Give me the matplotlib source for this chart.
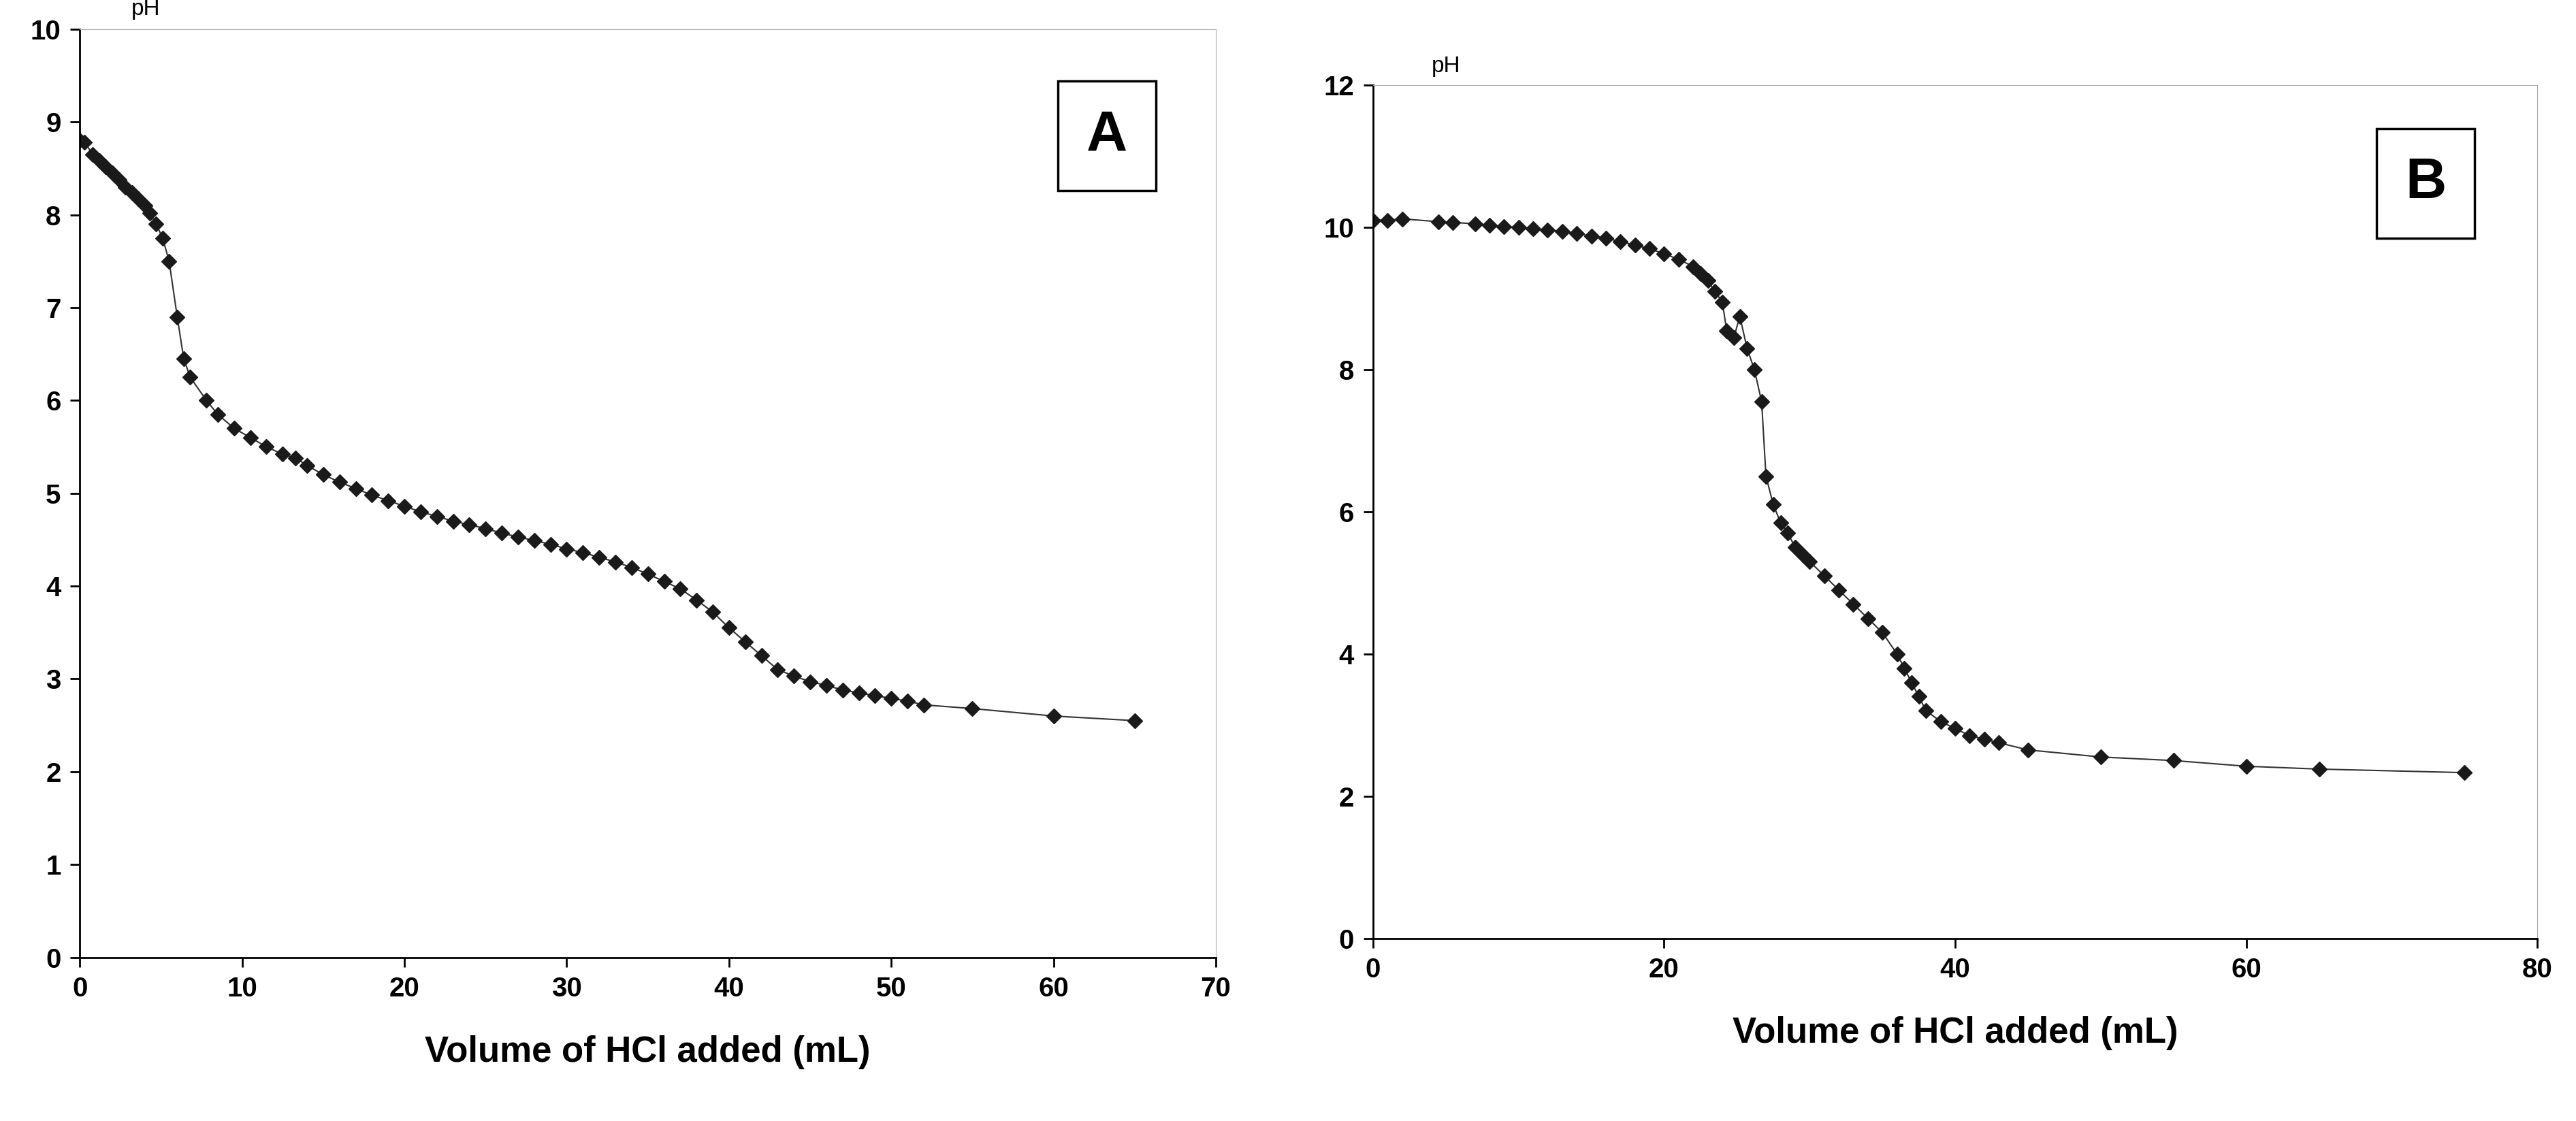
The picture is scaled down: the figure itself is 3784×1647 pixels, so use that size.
import matplotlib
matplotlib.use('Agg')
import matplotlib.pyplot as plt

plt.rcParams['font.family'] = ['Liberation Sans', 'DejaVu Sans']

# ── 데이터 ──────────────────────────────────────────
vol_a = [0, 0.3, 0.8, 1.2, 1.6, 2.0, 2.4, 2.8, 3.2, 3.6, 4.0, 4.3, 4.7, 5.1, 5.5, 6.0, 6.4,
         6.8, 7.8, 8.5, 9.5, 10.5, 11.5, 12.5, 13.3, 14, 15, 16, 17, 18, 19, 20, 21, 22, 23,
         24, 25, 26, 27, 28, 29, 30, 31, 32, 33, 34, 35, 36, 37, 38, 39, 40, 41, 42, 43, 44,
         45, 46, 47, 48, 49, 50, 51, 52, 55, 60, 65]
ph_a = [8.8, 8.78, 8.65, 8.58, 8.52, 8.45, 8.38, 8.3, 8.24, 8.17, 8.1, 8.02, 7.9, 7.75, 7.5,
        6.9, 6.45, 6.25, 6.0, 5.85, 5.7, 5.6, 5.5, 5.42, 5.38, 5.3, 5.2, 5.12, 5.05, 4.98,
        4.92, 4.86, 4.8, 4.75, 4.7, 4.66, 4.62, 4.57, 4.53, 4.49, 4.45, 4.4, 4.36, 4.31,
        4.26, 4.2, 4.13, 4.05, 3.97, 3.85, 3.72, 3.55, 3.4, 3.25, 3.1, 3.03, 2.97, 2.93,
        2.88, 2.85, 2.82, 2.79, 2.76, 2.72, 2.68, 2.6, 2.55]

vol_b = [0, 1, 2, 4.5, 5.5, 7, 8, 9, 10, 11, 12, 13, 14, 15, 16, 17, 18, 19, 20, 21, 22,
         22.5, 23, 23.5, 24, 24.3, 24.8, 25.2, 25.7, 26.2, 26.7, 27.0, 27.5, 28, 28.5, 29,
         29.5, 30, 31, 32, 33, 34, 35, 36, 36.5, 37, 37.5, 38, 39, 40, 41, 42, 43, 45, 50,
         55, 60, 65, 75]
ph_b = [10.1, 10.1, 10.12, 10.08, 10.07, 10.05, 10.03, 10.01, 10.0, 9.98, 9.96, 9.94, 9.91,
        9.88, 9.85, 9.8, 9.75, 9.7, 9.63, 9.55, 9.45, 9.35, 9.25, 9.1, 8.95, 8.55, 8.45,
        8.75, 8.3, 8.0, 7.55, 6.5, 6.1, 5.85, 5.7, 5.5, 5.4, 5.3, 5.1, 4.9, 4.7, 4.5, 4.3,
        4.0, 3.8, 3.6, 3.4, 3.2, 3.05, 2.95, 2.85, 2.8, 2.75, 2.65, 2.55, 2.5, 2.42, 2.38,
        2.33]

fig = plt.figure(figsize=(37.84, 16.47), dpi=100)
ax_a = fig.add_axes([0.031, 0.146, 0.441, 0.828])
ax_b = fig.add_axes([0.533, 0.163, 0.452, 0.761])


def style(ax, x, y, xmax, ymax, ystep, label):
    ax.plot(x, y, color='#333333', lw=1.5, marker='D', ms=11, mfc='#1a1a1a', mec='#1a1a1a')
    ax.set_xlim(0, xmax)
    ax.set_ylim(0, ymax)
    ax.set_xticks(range(0, xmax + 1, 10 if xmax == 70 else 20))
    ax.set_yticks(range(0, ymax + 1, ystep))
    for s in ['top', 'right']:
        ax.spines[s].set_color('#aaaaaa')
    for s in ['left', 'bottom']:
        ax.spines[s].set_color('black')
        ax.spines[s].set_linewidth(2)
    ax.tick_params(direction='out', length=10, width=2, labelsize=29, pad=10)
    for t in ax.get_xticklabels() + ax.get_yticklabels():
        t.set_fontweight('bold')
    ax.set_xlabel('Volume of HCl added (mL)', fontsize=38, fontweight='bold', labelpad=35)
    ax.text(0.045 if xmax == 70 else 0.05, 1.01, 'pH', transform=ax.transAxes,
            fontsize=24, va='bottom')
    ax.text(0.904, 0.885, label, transform=ax.transAxes, ha='center', va='center',
            fontsize=60, fontweight='bold',
            bbox=dict(boxstyle='square,pad=0.5', fc='white', ec='black', lw=2.5))


style(ax_a, vol_a, ph_a, 70, 10, 1, 'A')
style(ax_b, vol_b, ph_b, 80, 12, 2, 'B')

fig.savefig('out.png', dpi=100)
